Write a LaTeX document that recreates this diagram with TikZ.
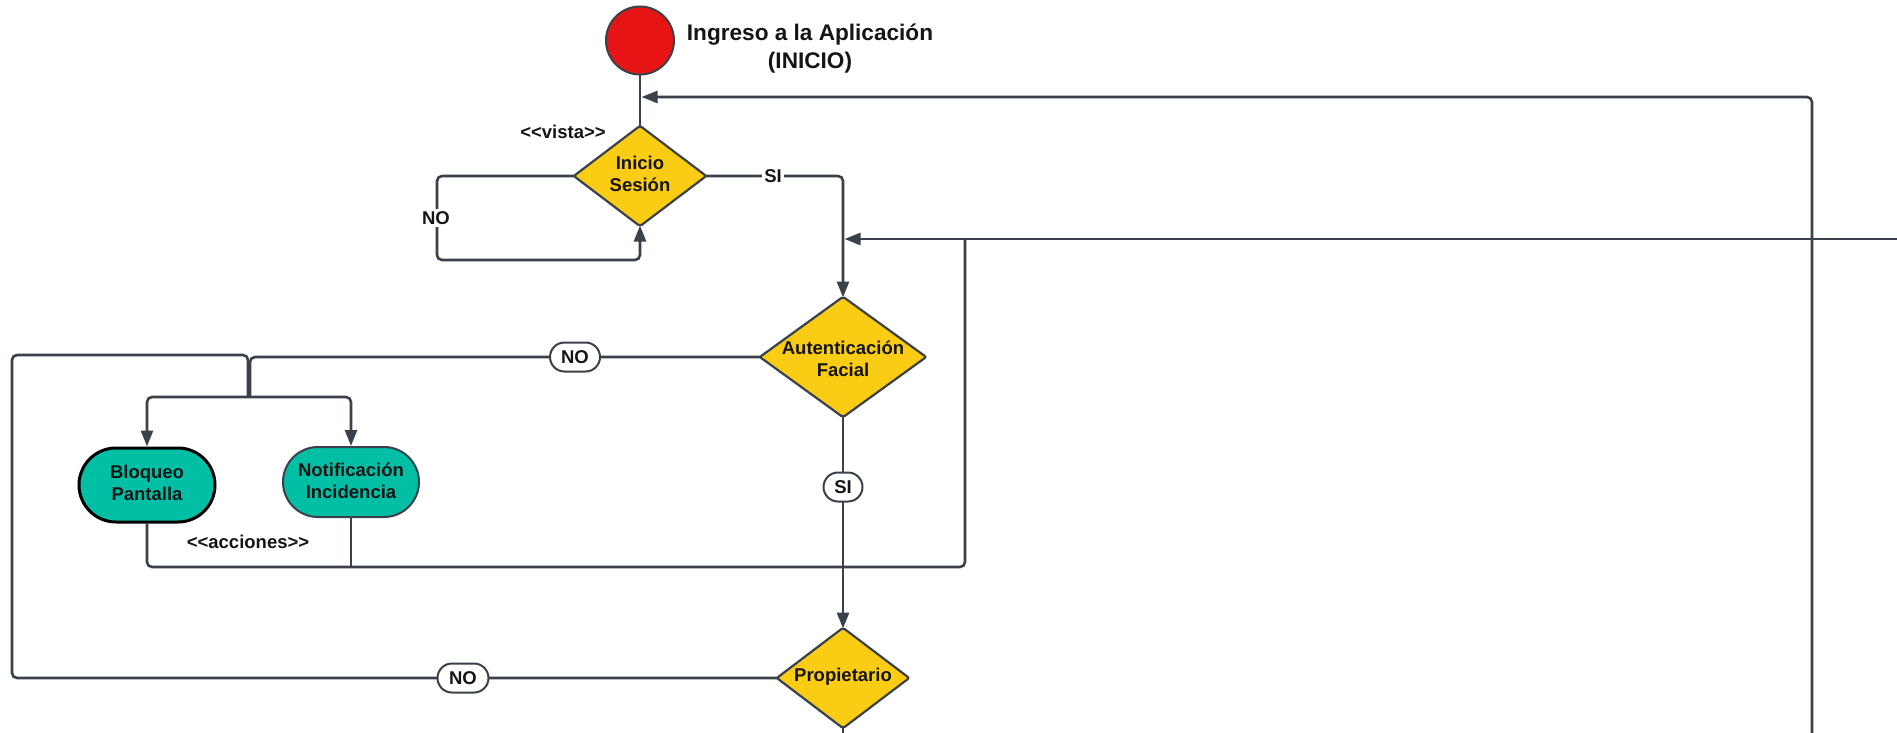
\documentclass[tikz,border=0pt]{standalone}
\usepackage{fontspec}
\setmainfont{Liberation Sans}
\usetikzlibrary{arrows.meta,shapes.geometric,shapes.misc}

\definecolor{lineclr}{HTML}{3A414A}
\definecolor{decclr}{HTML}{FACC14}
\definecolor{startclr}{HTML}{E61414}
\definecolor{actclr}{HTML}{00BFA5}
\definecolor{txtclr}{HTML}{151515}

\tikzset{
  base/.style={font=\bfseries\fontsize{18.5}{22}\selectfont, text=txtclr, align=center},
  startnode/.style={circle, draw=lineclr, line width=2pt, fill=startclr, minimum size=68pt, inner sep=0pt},
  decnode/.style={diamond, draw=lineclr, line width=2.2pt, fill=decclr, rounded corners=2pt,
                   inner sep=0pt, outer sep=-0.5pt, minimum width=132pt, minimum height=100pt},
  actnode/.style={rounded rectangle, draw=lineclr, line width=2pt, fill=actclr,
                  minimum width=136pt, minimum height=70pt, inner sep=0pt},
  txt/.style={base, inner sep=0pt},
  onlabel/.style={base, fill=white, inner sep=2pt},
  tag/.style={base, rounded rectangle, draw=lineclr, line width=2pt, fill=white, inner sep=0pt,
              minimum height=29pt},
  conn/.style={draw=lineclr, line width=2.6pt, rounded corners=5pt},
  arr/.style={-{Triangle[length=16pt,width=12pt]}},
}

\begin{document}
\begin{tikzpicture}[x=1pt,y=-1pt]
\useasboundingbox (0,0) rectangle (1897,733);

% start
\node[startnode] (ini) at (640,40.5) {};
\node[txt, font=\bfseries\fontsize{22.6}{28}\selectfont] (ttl) at (810,49) {Ingreso a la Aplicación\\(INICIO)};

% decisions
\node[decnode] (ses) at (640,176) {};
\node[txt] (sest) at (640,174) {Inicio\\Sesión};
\node[decnode, minimum width=166pt, minimum height=120pt] (aut) at (843,357) {};
\node[txt] (autt) at (843,359) {Autenticación\\Facial};
\node[decnode] (pro) at (843,678) {};
\node[txt] (prot) at (843,677) {Propietario};

% actions
\node[actnode, draw=black, line width=3pt, minimum height=74pt] (blo) at (147,485) {};
\node[txt] (blot) at (147,483) {Bloqueo\\Pantalla};
\node[actnode] (not) at (351,482) {};
\node[txt] (nott) at (351,480.5) {Notificación\\Incidencia};

% stereotypes
\node[txt] (vis) at (563,132) {<{}<vista>{}>};
\node[txt] (acc) at (248,542) {<{}<acciones>{}>};

% routing points
\coordinate (nlb) at (437,260);
\coordinate (rin) at (1897,239);
\coordinate (j1) at (844.5,239);
\coordinate (rbot) at (1812,733);
\coordinate (j0) at (641.5,97);
\coordinate (spl) at (250,397);
\coordinate (accb) at (965,567);
\coordinate (j2) at (965,239);
\coordinate (lb) at (12,678);
\coordinate (lt) at (12,355);
\coordinate (spl2) at (248,397);
\coordinate (pend) at (843,733);

% connectors
\draw[conn] (ini.south) -- (ses.north);
\draw[conn, arr] (ses.east) -| (aut.north);
\draw[conn, arr] (ses.west) -| (nlb) -| (ses.south);
\draw[conn, arr] (rin) -- (j1);
\draw[conn, arr] (rbot) |- (j0);
\draw[conn] (aut.west) -| (spl);
\draw[conn, arr] (spl) -| (blo.north);
\draw[conn, arr] (spl) -| (not.north);
\draw[conn] (blo.south) |- (accb) -- (j2);
\draw[conn] (not.south) -- (not.south |- accb);
\draw[conn, arr] (aut.south) -- (pro.north);
\draw[conn] (pro.west) -- (lb) -- (lt) -| (spl2);
\draw[conn] (pro.south) -- (pend);

% branch labels
\node[onlabel] (si1) at (773,176) {SI};
\node[onlabel] (no1) at (436,218) {NO};
\node[tag, minimum width=50pt] (no2) at (575,357) {NO};
\node[tag, minimum width=39pt] (si2) at (843,487) {SI};
\node[tag, minimum width=51pt] (no3) at (463,678) {NO};
\end{tikzpicture}
\end{document}
